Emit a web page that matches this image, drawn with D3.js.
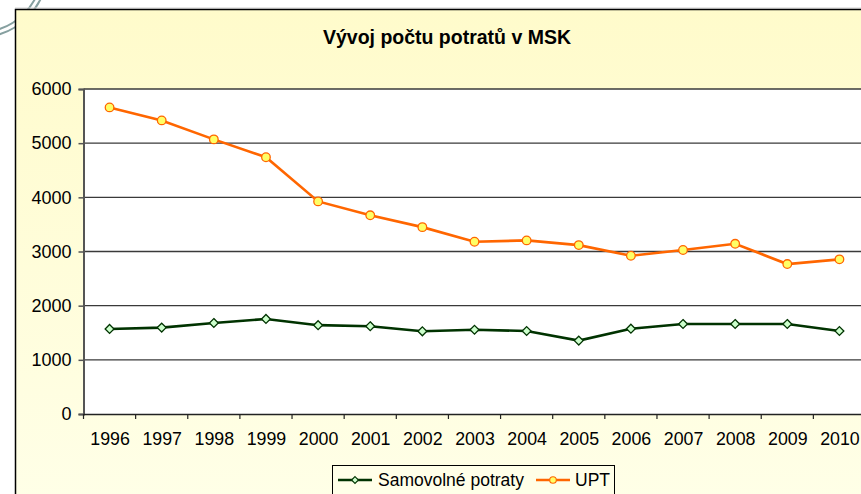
<!DOCTYPE html>
<html>
<head>
<meta charset="utf-8">
<script src="https://cdn.jsdelivr.net/npm/d3@7"></script>
<style>
  body { margin: 0; background: #fff; }
  text { font-family: "Liberation Sans", Arial, sans-serif; }
</style>
</head>
<body>
<div id="chart"></div>
<script>
var years = ["1996", "1997", "1998", "1999", "2000", "2001", "2002", "2003",
  "2004", "2005", "2006", "2007", "2008", "2009", "2010"];
var samovolne = [1570, 1595, 1680, 1755, 1640, 1620, 1527, 1555, 1532, 1355, 1575, 1662, 1662, 1662, 1532];
var upt = [5660, 5420, 5070, 4740, 3925, 3668, 3450, 3180, 3205, 3118, 2922, 3028, 3142, 2768, 2855];
var yTicks = [0, 1000, 2000, 3000, 4000, 5000, 6000];
var seriesNames = ["Samovolné potraty", "UPT"];

var svgWidth = 861;
var svgHeight = 494;

var plot = { left: 83.5, top: 89, right: 865.5, bottom: 414 };

var svg = d3.select("#chart")
  .append("svg")
  .attr("width", svgWidth)
  .attr("height", svgHeight);

var defs = svg.append("defs");
var grad = defs.append("linearGradient")
  .attr("id", "bg")
  .attr("x1", 0).attr("y1", 0)
  .attr("x2", 0).attr("y2", 1);
grad.append("stop").attr("offset", "0%").attr("stop-color", "#fffbcb");
grad.append("stop").attr("offset", "100%").attr("stop-color", "#ffffe8");

// watermark arcs behind the chart box
[62, 67].forEach(r => {
  svg.append("circle")
    .attr("cx", -20)
    .attr("cy", -30)
    .attr("r", r)
    .attr("fill", "none")
    .attr("stroke", "#86a0a0")
    .attr("stroke-width", 2);
});

// chart box
svg.append("line")
  .attr("x1", 15).attr("x2", svgWidth)
  .attr("y1", 8).attr("y2", 8)
  .attr("stroke", "#d0d0d0")
  .attr("stroke-width", 1);

svg.append("rect")
  .attr("x", 15.5)
  .attr("y", 9.5)
  .attr("width", svgWidth + 10)
  .attr("height", svgHeight + 10)
  .attr("fill", "url(#bg)")
  .attr("stroke", "#000")
  .attr("stroke-width", 1.5);

svg.append("text")
  .attr("x", 447)
  .attr("y", 43.5)
  .attr("text-anchor", "middle")
  .attr("font-size", "19.5px")
  .attr("font-weight", "bold")
  .attr("fill", "#000")
  .text("Vývoj počtu potratů v MSK");

// plot area
svg.append("rect")
  .attr("x", plot.left)
  .attr("y", plot.top)
  .attr("width", plot.right - plot.left)
  .attr("height", plot.bottom - plot.top)
  .attr("fill", "#fff");

var x = d3.scaleBand()
  .domain(years)
  .range([plot.left, plot.right])
  .padding(0);

var y = d3.scaleLinear()
  .domain([0, 6000])
  .range([plot.bottom, plot.top]);

// gridlines
svg.append("g")
  .selectAll("line")
  .data(yTicks.filter(d => d > 0))
  .enter()
  .append("line")
  .attr("x1", plot.left)
  .attr("x2", plot.right)
  .attr("y1", d => y(d))
  .attr("y2", d => y(d))
  .attr("stroke", "#3a3a3a")
  .attr("stroke-width", 1.4);

// y axis
var yAxis = d3.axisLeft(y)
  .tickValues(yTicks)
  .tickSize(5)
  .tickPadding(7)
  .tickFormat(d3.format("d"));

var yG = svg.append("g")
  .attr("transform", `translate(${plot.left}, 0)`)
  .call(yAxis);
yG.select(".domain").attr("stroke", "#555").attr("stroke-width", 2);
yG.selectAll(".tick line").attr("stroke", "#555").attr("stroke-width", 1.5);
yG.selectAll("text")
  .attr("font-size", "18px")
  .attr("fill", "#000")
  .style("font-family", "Liberation Sans, Arial, sans-serif");

// x axis
var xAxis = d3.axisBottom(x)
  .tickSize(0)
  .tickPadding(18);

var xG = svg.append("g")
  .attr("transform", `translate(0, ${plot.bottom})`)
  .call(xAxis);
xG.select(".domain").attr("stroke", "#222").attr("stroke-width", 1.5);
xG.selectAll("text")
  .attr("font-size", "17.8px")
  .attr("fill", "#000")
  .attr("dx", "0.5px")
  .style("font-family", "Liberation Sans, Arial, sans-serif");

svg.append("g")
  .selectAll("line")
  .data(years)
  .enter()
  .append("line")
  .attr("x1", d => x(d))
  .attr("x2", d => x(d))
  .attr("y1", plot.bottom)
  .attr("y2", plot.bottom + 5)
  .attr("stroke", "#222")
  .attr("stroke-width", 1.2);

var cx = d => x(d) + x.bandwidth() / 2;

var line = d3.line()
  .x(d => cx(d.year))
  .y(d => y(d.value));

var greenData = years.map((d, i) => ({ year: d, value: samovolne[i] }));
var orangeData = years.map((d, i) => ({ year: d, value: upt[i] }));

var diamond = d3.symbol().type(d3.symbolDiamond2).size(50);

function drawGreen(g, data) {
  g.append("path")
    .datum(data)
    .attr("d", line)
    .attr("fill", "none")
    .attr("stroke", "#003300")
    .attr("stroke-width", 2.6);
  g.selectAll(".dia")
    .data(data)
    .enter()
    .append("path")
    .attr("class", "dia")
    .attr("d", diamond)
    .attr("transform", d => `translate(${cx(d.year)}, ${y(d.value)})`)
    .attr("fill", "#ccffcc")
    .attr("stroke", "#003300")
    .attr("stroke-width", 1.3);
}

function drawOrange(g, data) {
  g.append("path")
    .datum(data)
    .attr("d", line)
    .attr("fill", "none")
    .attr("stroke", "#ff6600")
    .attr("stroke-width", 2.6);
  g.selectAll(".dot")
    .data(data)
    .enter()
    .append("circle")
    .attr("class", "dot")
    .attr("cx", d => cx(d.year))
    .attr("cy", d => y(d.value))
    .attr("r", 4.3)
    .attr("fill", "#ffff66")
    .attr("stroke", "#ff6600")
    .attr("stroke-width", 1.3);
}

drawGreen(svg.append("g"), greenData);
drawOrange(svg.append("g"), orangeData);

// legend
var legend = svg.append("g");
legend.append("rect")
  .attr("x", 332.5)
  .attr("y", 465.5)
  .attr("width", 282)
  .attr("height", 40)
  .attr("fill", "#ffffe8")
  .attr("stroke", "#000")
  .attr("stroke-width", 1);

var legendItems = [
  { name: seriesNames[0], x0: 338, tx: 378, color: "#003300" },
  { name: seriesNames[1], x0: 536, tx: 575, color: "#ff6600" }
];

legendItems.forEach((it, i) => {
  legend.append("line")
    .attr("x1", it.x0).attr("x2", it.x0 + 34)
    .attr("y1", 480).attr("y2", 480)
    .attr("stroke", it.color)
    .attr("stroke-width", 2.6);
  if (i === 0) {
    legend.append("path")
      .attr("d", d3.symbol().type(d3.symbolDiamond2).size(30))
      .attr("transform", `translate(${it.x0 + 17}, 480)`)
      .attr("fill", "#ccffcc")
      .attr("stroke", "#003300")
      .attr("stroke-width", 1.1);
  } else {
    legend.append("circle")
      .attr("cx", it.x0 + 17).attr("cy", 480)
      .attr("r", 3.3)
      .attr("fill", "#ffff66")
      .attr("stroke", "#ff6600")
      .attr("stroke-width", 1.1);
  }
  legend.append("text")
    .attr("x", it.tx)
    .attr("y", 486)
    .attr("font-size", "17.5px")
    .attr("fill", "#000")
    .text(it.name);
});
</script>
</body>
</html>
